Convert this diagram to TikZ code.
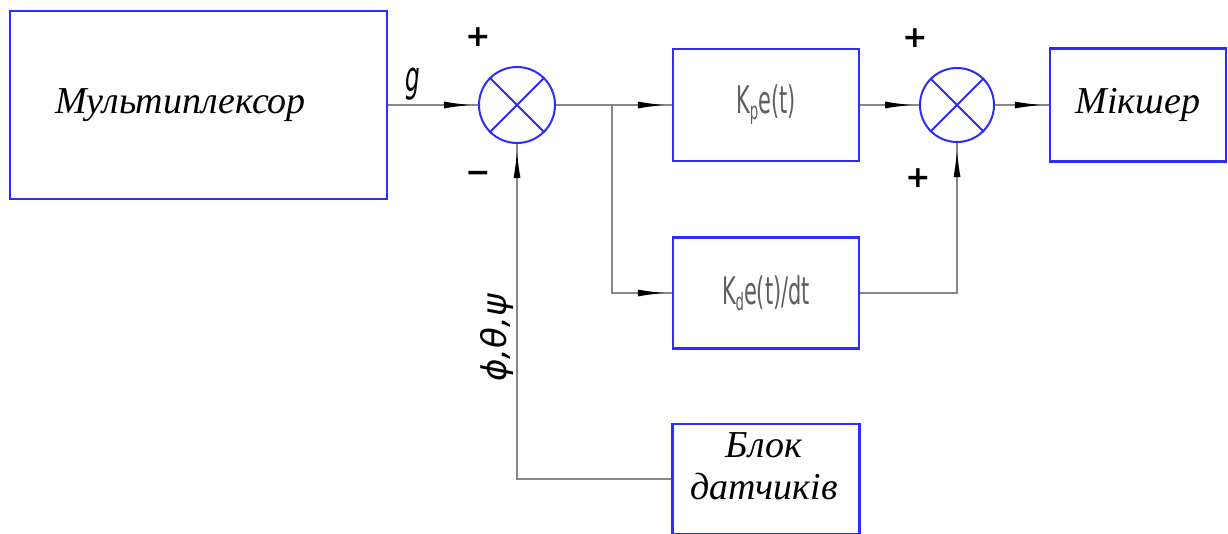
\documentclass[tikz,border=0pt]{standalone}
\usepackage{fontspec}
\setmainfont{Liberation Serif}
\newfontfamily\gostfont[FakeStretch=0.55]{DejaVu Sans}
\newfontfamily\greekfont{DejaVu Sans}
\usetikzlibrary{arrows.meta,decorations.markings}
\definecolor{boxblue}{RGB}{45,45,250}
\definecolor{wiregray}{RGB}{135,135,135}
\definecolor{kgray}{RGB}{95,95,95}
\tikzset{
  block/.style={draw=boxblue, line width=2.5pt, minimum width=186pt, minimum height=112pt, inner sep=0pt},
  summer/.style={draw=boxblue, line width=2pt, circle, minimum size=76pt, inner sep=0pt},
  wire/.style={draw=wiregray, line width=1.6pt},
  flow/.style={wire, postaction={decorate},
    decoration={markings, mark=at position -6pt with {\arrow[black]{Latex[length=28pt,width=7pt]}}}},
  btext/.style={font=\fontsize{38}{42}\selectfont\itshape},
  ktext/.style={font=\gostfont\fontsize{38}{42}\selectfont, text=kgray},
  sign/.style={font=\greekfont\fontsize{30}{30}\selectfont\bfseries\itshape}
}
\begin{document}
\begin{tikzpicture}[x=1pt,y=-1pt]
  \useasboundingbox (0,0) rectangle (1228,533);
  \clip (0,0) rectangle (1228,533);
  \fill[white] (0,0) rectangle (1228,533);

  % blocks
  \node[block, minimum width=377pt, minimum height=188pt, btext] (mux) at (198.5,105) {\hspace*{-36pt}Мультиплексор};
  \node[summer] (s1) at (517,105) {};
  \node[block, ktext] (kp) at (766,105) {K\raisebox{-6pt}{\fontsize{24}{24}\selectfont p}e(t)};
  \node[block, ktext, minimum height=111pt] (kd) at (766,293) {K\raisebox{-6pt}{\fontsize{24}{24}\selectfont d}e(t)/dt};
  \node[summer, minimum size=74pt] (s2) at (957,105) {};
  \node[block, minimum width=176pt, minimum height=113pt, btext] (mix) at (1138,105) {Мікшер};
  \node[block, minimum width=187pt, minimum height=110pt] (blok) at (766,479) {};
  \node[btext, align=center, inner sep=0pt] (blokt) at (764,466) {Блок\\датчиків};

  % crosses in the summers
  \foreach \s in {s1,s2} {
    \draw[boxblue, line width=2pt] (\s.45) -- (\s.225);
    \draw[boxblue, line width=2pt] (\s.135) -- (\s.315);
  }

  % connections
  \coordinate (br) at (612,105);
  \draw[flow] (mux.east) -- (s1.west);
  \draw[flow] (s1.east) -- (kp.west);
  \draw[flow] (br) |- (kd.west);
  \draw[flow] (kp.east) -- (s2.west);
  \draw[flow] (kd.east) -| (s2.south);
  \draw[flow] (s2.east) -- (mix.west);
  \draw[flow] (blok.west) -| (s1.south);

  % signs and labels
  \node[font=\gostfont\itshape\fontsize{42}{42}\selectfont] (gl) at (413,84) {g};
  \node[sign] (p1) at (478,37) {+};
  \node[sign] (m1) at (478,177) {−};
  \node[sign] (p2) at (915,38) {+};
  \node[sign] (p3) at (918,178) {+};
  \node[rotate=90, font=\greekfont\itshape\fontsize{34}{34}\selectfont] (ang) at (497,338) {ϕ,θ,ψ};
\end{tikzpicture}
\end{document}
